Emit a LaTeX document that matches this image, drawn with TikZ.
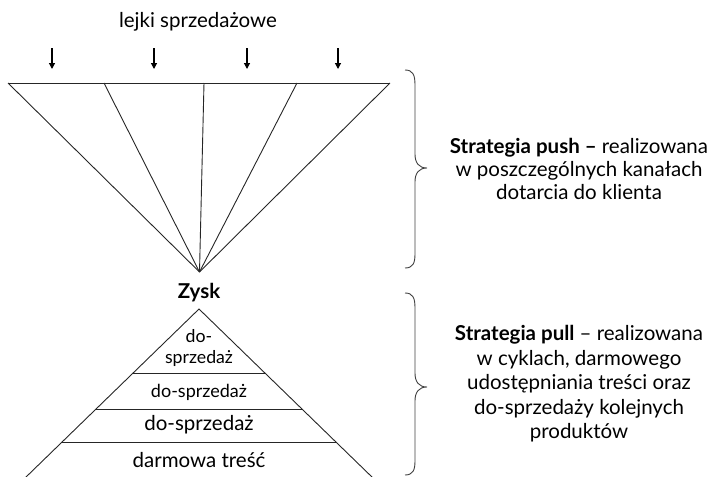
\documentclass[tikz,border=0pt]{standalone}
\usepackage{fontspec}
\setmainfont{Lato}
\usetikzlibrary{arrows.meta}
\begin{document}
\begin{tikzpicture}[x=1pt,y=-1pt,
  ln/.style={line width=0.9pt,black!85},
  arr/.style={line width=1.2pt,-{Triangle[length=6pt,width=6pt]}},
  brc/.style={line width=0.9pt,black!75},
  txt/.style={inner sep=0pt,align=center,font=\fontsize{20.5}{24.5}\selectfont}]
\useasboundingbox (0,0) rectangle (713,477);
% top funnel
\coordinate (apex) at (199.5,272);
\coordinate (t0) at (8,83);
\coordinate (t1) at (104,83);
\coordinate (t2) at (204,83);
\coordinate (t3) at (297,83);
\coordinate (t4) at (390,83);
\draw[ln] (t0) -- (t4);
\foreach \i in {0,...,4} \draw[ln] (t\i) -- (apex);
% arrows
\node[txt] (lejki) at (198,22) {lejki sprzedażowe};
\foreach \x/\n in {52/a1,154/a2,247/a3,338/a4}{
  \coordinate (\n s) at (\x,48);
  \coordinate (\n e) at (\x,69);
  \draw[arr] (\n s) -- (\n e);
}
\node[txt,font=\fontsize{20.5}{24}\selectfont\bfseries] (zysk) at (199,293) {Zysk};
% pyramid
\coordinate (papex) at (199,309);
\coordinate (bl) at (25,478);
\coordinate (br) at (373,478);
\draw[ln] (bl) -- (papex) -- (br);
\coordinate (l1a) at (133,373); \coordinate (l1b) at (265,373);
\coordinate (l2a) at (95,409); \coordinate (l2b) at (303,409);
\coordinate (l3a) at (61,442); \coordinate (l3b) at (337,442);
\draw[ln] (l1a) -- (l1b);
\draw[ln] (l2a) -- (l2b);
\draw[ln] (l3a) -- (l3b);
\node[txt,font=\fontsize{17.7}{21}\selectfont] (p1) at (199,348) {do-\\sprzedaż};
\node[txt,font=\fontsize{18}{20}\selectfont] (p2) at (199,392) {do-sprzedaż};
\node[txt,font=\fontsize{20.5}{20}\selectfont] (p3) at (199,425) {do-sprzedaż};
\node[txt,font=\fontsize{20.5}{20}\selectfont] (p4) at (199,460) {darmowa treść};
% braces
\coordinate (b1s) at (405,70);
\coordinate (b1t) at (427,168);
\coordinate (b1e) at (405,268);
\draw[brc] (b1s) .. controls (413,70) and (415,75) .. (415,85) -- (415,154)
  .. controls (415,163) and (419,168) .. (b1t)
  .. controls (419,168) and (415,173) .. (415,182) -- (415,254)
  .. controls (415,263) and (413,268) .. (b1e);
\coordinate (b2s) at (405,293);
\coordinate (b2t) at (427,387);
\coordinate (b2e) at (405,475);
\draw[brc] (b2s) .. controls (413,293) and (415,298) .. (415,308) -- (415,373)
  .. controls (415,382) and (419,387) .. (b2t)
  .. controls (419,387) and (415,392) .. (415,401) -- (415,461)
  .. controls (415,470) and (413,475) .. (b2e);
\node[txt,font=\fontsize{20.5}{22.7}\selectfont] (push) at (579,169) {\textbf{Strategia push –} realizowana\\w poszczególnych kanałach\\dotarcia do klienta};
\node[txt] (pull) at (579,384) {\textbf{Strategia pull} – realizowana\\w cyklach, darmowego\\udostępniania treści oraz\\do-sprzedaży kolejnych\\produktów};
\end{tikzpicture}
\end{document}
